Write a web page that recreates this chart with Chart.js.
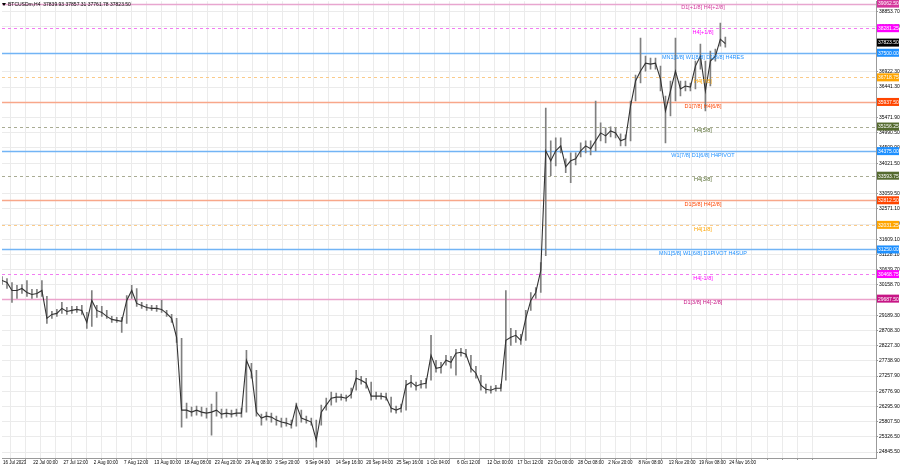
<!DOCTYPE html>
<html>
<head>
<meta charset="utf-8">
<title>BTCUSD H4</title>
<script src="https://cdn.jsdelivr.net/npm/chart.js@4.4.1/dist/chart.umd.min.js"></script>
<style>
    html, body { margin: 0; padding: 0; background: #ffffff; }
    #wrap { position: relative; width: 900px; height: 468px; }
</style>
</head>
<body>
<div id="wrap"><canvas id="priceChart"></canvas></div>
<script>
// Price samples (oldest first)
const closes = [30296, 30233, 29979, 29979, 30042, 29915, 29852, 29884, 29979, 29092,
    29218, 29250, 29409, 29313, 29345, 29377, 29345, 28965, 29662, 29345,
    29282, 29155, 29060, 29028, 28997, 29662, 29979, 29567, 29504, 29440,
    29409, 29409, 29377, 29250, 29092, 28489, 26176, 26176, 26113, 26176,
    26113, 26081, 26113, 26176, 26049, 26081, 26049, 26081, 26081, 27761,
    27380, 26113, 25923, 25986, 25954, 25859, 25796, 25764, 25701, 26335,
    25923, 25859, 25796, 25226, 26113, 26335, 26556, 26588, 26588, 26556,
    26683, 27190, 27127, 27032, 26620, 26620, 26620, 26588, 26240, 26176,
    26240, 26968, 27064, 26937, 27000, 27032, 27919, 27507, 27539, 27761,
    27697, 27982, 28014, 27951, 27507, 27349, 26968, 26841, 26810, 26873,
    26873, 28395, 28489, 28553, 28395, 29092, 29662, 29915, 30613, 34416,
    34099, 34416, 34574, 33909, 34099, 34162, 34416, 34574, 34479, 34732,
    34986, 34891, 35049, 34986, 34732, 34796, 35842, 36634, 36951, 37204,
    37172, 37204, 36697, 35683, 36317, 36951, 36380, 36475, 36444, 37109,
    37426, 36317, 37268, 37426, 37965, 37823.5];
const highs = [30423, 30359, 30233, 30138, 30169, 30296, 30011, 30011, 30296, 29789,
    29313, 29377, 29599, 29440, 29472, 29472, 29504, 29282, 29979, 29504,
    29472, 29345, 29155, 29123, 29123, 29820, 30138, 30042, 29599, 29535,
    29504, 29504, 29662, 29345, 29218, 29092, 28458, 26398, 26271, 26303,
    26271, 26240, 26366, 26746, 26208, 26208, 26176, 26208, 26240, 28078,
    27665, 27444, 26049, 26113, 26081, 25986, 25923, 25923, 25859, 26398,
    26176, 25986, 25923, 25859, 26335, 26556, 26746, 26715, 26683, 26652,
    26873, 27444, 27254, 27190, 27064, 26746, 26715, 26715, 26588, 26303,
    26366, 27127, 27285, 27064, 27127, 27190, 28553, 27761, 27697, 27919,
    27887, 28109, 28141, 28109, 27919, 27570, 27285, 27000, 26937, 26968,
    27000, 29979, 28775, 28711, 28584, 29345, 29915, 30074, 30866, 35778,
    34732, 34827, 34827, 34162, 34352, 34352, 34669, 34732, 34732, 36000,
    35303, 35144, 35176, 35144, 34954, 34922, 36000, 36824, 37996, 37426,
    37363, 37363, 37109, 36158, 36634, 37996, 36634, 36634, 36570, 37268,
    37806, 37268, 37585, 37648, 38472, 38028];
const lows = [30169, 30042, 29599, 29725, 29884, 29789, 29725, 29757, 29789, 28933,
    29092, 29155, 29250, 29218, 29250, 29282, 29218, 28775, 28838, 29123,
    29155, 29092, 28965, 28965, 28648, 28933, 29725, 29472, 29409, 29345,
    29345, 29313, 29282, 29155, 28965, 28331, 25637, 25923, 25986, 26018,
    25986, 25923, 25384, 25986, 25923, 25954, 25954, 25986, 25954, 26113,
    27190, 25986, 25701, 25859, 25796, 25701, 25637, 25669, 25605, 25669,
    25796, 25764, 25701, 25003, 25701, 26176, 26335, 26430, 26493, 26461,
    26556, 26810, 27000, 26873, 26493, 26525, 26525, 26493, 26113, 26081,
    26113, 26176, 26905, 26810, 26873, 26873, 27127, 27380, 27349, 27602,
    27507, 27285, 27887, 27856, 27380, 27190, 26810, 26715, 26715, 26778,
    26778, 27127, 28236, 28331, 28267, 28395, 29345, 29725, 29915, 31088,
    33623, 33940, 34352, 33718, 33402, 33972, 34225, 34352, 34289, 34416,
    34732, 34669, 34859, 34827, 34574, 34574, 34732, 36000, 36570, 36951,
    37014, 37014, 36317, 34669, 35525, 36000, 36158, 36317, 36317, 36380,
    37014, 35683, 36475, 37268, 37743, 37711];

// Time axis labels
const timeLabels = ['16 Jul 2023', '22 Jul 00:00', '27 Jul 12:00', '2 Aug 00:00', '7 Aug 12:00',
    '13 Aug 00:00', '18 Aug 08:00', '23 Aug 20:00', '29 Aug 08:00', '3 Sep 20:00',
    '9 Sep 04:00', '14 Sep 16:00', '20 Sep 04:00', '25 Sep 16:00', '1 Oct 04:00',
    '6 Oct 12:00', '12 Oct 00:00', '17 Oct 12:00', '23 Oct 00:00', '28 Oct 08:00',
    '2 Nov 20:00', '8 Nov 08:00', '13 Nov 20:00', '19 Nov 08:00', '24 Nov 16:00'];

// Price axis labels
const priceTicks = [38853.70, 38372.30, 36922.30, 36441.30, 35471.90, 34990.50, 34509.90,
    34021.50, 33059.50, 32571.10, 32090.10, 31609.10, 31128.10, 30639.70, 30158.70,
    29189.30, 28708.30, 28227.30, 27738.90, 27257.90, 26776.90, 26295.90, 25807.50,
    25326.50, 24845.50];

// Murrey levels
const levelPrices = [39062.50, 38281.25, 37500.00, 36718.75, 35937.50, 35156.25, 34375.00,
    33593.75, 32812.50, 32031.25, 31250.00, 30468.75, 29687.50];
const levelNames = ['D1[+1/8] H4[+2/8]', 'H4[+1/8]', 'MN1[6/8] W1[8/8] D1[8/8] H4RES', 'H4[7/8]',
    'D1[7/8] H4[6/8]', 'H4[5/8]', 'W1[7/8] D1[6/8] H4PIVOT', 'H4[3/8]', 'D1[5/8] H4[2/8]',
    'H4[1/8]', 'MN1[5/8] W1[6/8] D1PIVOT H4SUP', 'H4[-1/8]', 'D1[3/8] H4[-2/8]'];
const levelColors = ['#D4379C', '#FF00FF', '#1E90FF', '#FFA500', '#FF4500', '#556B2F', '#1E90FF',
    '#556B2F', '#FF4500', '#FFA500', '#1E90FF', '#FF00FF', '#C71585'];
const levelLines = ['#E8A6CF', '#F27CF2', '#72B4F5', '#FBCB8A', '#F8A78A', '#A9AC94', '#72B4F5',
    '#A9AC94', '#F8A78A', '#FBCB8A', '#72B4F5', '#F27CF2', '#EBA3CC'];
const levelDashed = [false, true, false, true, false, true, false, true, false, true, false, true, false];

const lastPrice = 37823.50;
const titleText = 'BTCUSDm,H4  37839.93 37857.31 37761.78 37823.50';

const FONT = 'Liberation Sans';
const SAMPLE_PX = 5; // one sample every ~5 px of the original chart

// Levels, price boxes and header text
const levelsPlugin = {
    id: 'levels',
    beforeDatasetsDraw(chart) {
        const { ctx, chartArea, scales } = chart;
        ctx.save();
        levelPrices.forEach((p, i) => {
            const y = Math.round(scales.y.getPixelForValue(p)) - 0.5;
            ctx.strokeStyle = levelLines[i];
            ctx.lineWidth = levelDashed[i] ? 1 : 1.3;
            ctx.setLineDash(levelDashed[i] ? [3, 3] : []);
            ctx.beginPath();
            ctx.moveTo(chartArea.left, y);
            ctx.lineTo(chartArea.right, y);
            ctx.stroke();
        });
        ctx.restore();
    },
    afterDraw(chart) {
        const { ctx, chartArea, scales } = chart;
        ctx.save();
        ctx.font = '5.5px ' + FONT;
        ctx.textAlign = 'center';
        ctx.textBaseline = 'top';
        const cx = chartArea.left + chartArea.width * 0.802;
        levelPrices.forEach((p, i) => {
            const y = scales.y.getPixelForValue(p);
            ctx.fillStyle = levelColors[i];
            ctx.fillText(levelNames[i], cx, y + 0.5);
        });

        // price boxes on the right axis
        ctx.font = '5px ' + FONT;
        const drawBox = (p, bg) => {
            const y = scales.y.getPixelForValue(p) - 1;
            ctx.fillStyle = bg;
            ctx.fillRect(chartArea.right + 1, y - 4, 22, 8);
            ctx.fillStyle = '#ffffff';
            ctx.textBaseline = 'middle';
            ctx.textAlign = 'left';
            ctx.fillText(p.toFixed(2), chartArea.right + 2, y + 0.5);
        };
        levelPrices.forEach((p, i) => drawBox(p, levelColors[i]));
        drawBox(lastPrice, '#000000');

        // header
        ctx.fillStyle = '#000000';
        ctx.textAlign = 'left';
        ctx.textBaseline = 'top';
        ctx.font = '5px ' + FONT;
        ctx.fillText(titleText, 8, 2);
        ctx.beginPath();
        ctx.moveTo(2, 3);
        ctx.lineTo(6, 3);
        ctx.lineTo(4, 6);
        ctx.closePath();
        ctx.fill();
        ctx.restore();
    }
};

const ctx = document.getElementById('priceChart').getContext('2d');
const priceChart = new Chart(ctx, {
    type: 'bar',
    data: {
        datasets: [{
            type: 'line',
            data: closes.map((c, i) => ({ x: i, y: c })),
            borderColor: '#333333',
            borderWidth: 1.1,
            pointRadius: 0,
            tension: 0,
            order: 1
        }, {
            type: 'bar',
            data: highs.map((h, i) => ({ x: i, y: [lows[i], h] })),
            backgroundColor: '#808080',
            barThickness: 1,
            order: 2
        }]
    },
    options: {
        responsive: true,
        maintainAspectRatio: false,
        animation: false,
        layout: { padding: 0, autoPadding: false },
        plugins: {
            legend: { display: false },
            tooltip: { enabled: false }
        },
        scales: {
            x: {
                type: 'linear',
                offset: false,
                min: 0,
                max: 876 / SAMPLE_PX,
                afterBuildTicks: scale => {
                    const ticks = [];
                    for (let k = 0; k < timeLabels.length * 2 + 4; k++) {
                        ticks.push({ value: (1 + 15.165 * k) / SAMPLE_PX });
                    }
                    scale.ticks = ticks;
                },
                afterFit: scale => { scale.height = 10; },
                ticks: {
                    autoSkip: false,
                    maxRotation: 0,
                    align: 'start',
                    padding: 3,
                    color: '#000000',
                    font: { family: FONT, size: 4.5, lineHeight: 0.1 },
                    callback: (v, idx) => (idx % 2 === 0 && timeLabels[idx / 2]) ? timeLabels[idx / 2] : ''
                },
                grid: { color: '#ebebeb', tickLength: 2, tickColor: '#999999' },
                border: { color: '#9a9a9a' }
            },
            y: {
                position: 'right',
                min: 24655,
                max: 39169,
                afterBuildTicks: scale => {
                    scale.ticks = priceTicks.map(v => ({ value: v }));
                },
                afterFit: scale => { scale.width = 24; },
                ticks: {
                    padding: 1,
                    color: '#000000',
                    font: { family: FONT, size: 5, lineHeight: 0.1 },
                    callback: v => v.toFixed(2)
                },
                grid: { color: '#ebebeb', tickLength: 2, tickColor: '#999999' },
                border: { color: '#9a9a9a' }
            }
        }
    },
    plugins: [levelsPlugin]
});
</script>
</body>
</html>
